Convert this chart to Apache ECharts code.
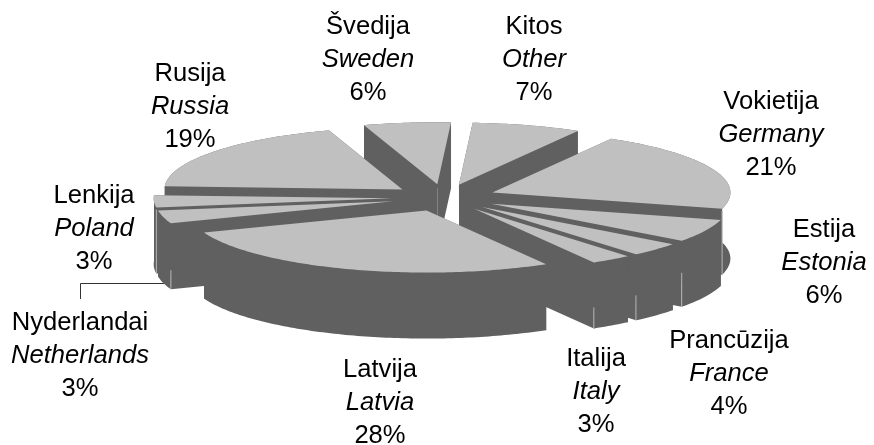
<!DOCTYPE html>
<html>
<head>
<meta charset="utf-8">
<style>
  html, body { margin: 0; padding: 0; background: #fff; }
  #main { width: 874px; height: 445px; }
</style>
<script src="https://cdn.jsdelivr.net/npm/echarts@6/dist/echarts.min.js"></script>
</head>
<body>
<div id="main"></div>
<script>
  // clockwise from the top of the pie
  const namesLt = ['Kitos', 'Vokietija', 'Estija', 'Prancūzija', 'Italija', 'Latvija', 'Nyderlandai', 'Lenkija', 'Rusija', 'Švedija'];
  const namesEn = ['Other', 'Germany', 'Estonia', 'France', 'Italy', 'Latvia', 'Netherlands', 'Poland', 'Russia', 'Sweden'];
  // the labels show them rounded
  const shares = [7.4, 20.9, 6, 3.6, 2.8, 27.6, 3.4, 3.2, 19.2, 5.9];

  // label centres, same order as the names
  const labelX = [534, 771, 824, 729, 596, 380, 80, 94, 190, 368];
  const labelY = [60, 135, 263, 374, 392, 403, 356, 229, 107, 60];
  // how far down the wall the light seam starts, null = no seam
  const seamSkip = [null, 2, 32, 41, 45, null, 47, 2, null, null];

  const pie = { cx: 444, cy: 197.7, rx: 238, ry: 62, depth: 66, explode: 0.22, start: 3.3 };
  const topColor = '#c0c0c0';
  const sideColor = '#606060';
  const seamColor = '#b4b4b4';

  const total = shares.reduce((a, b) => a + b, 0);
  const toAngle = v => echarts.number.linearMap(v, [0, total], [pie.start, pie.start + 360]);

  let sum = 0;
  const slices = shares.map((v, i) => {
    const s = { index: i, value: v, a0: toAngle(sum), a1: toAngle(sum + v) };
    sum += v;
    s.mid = (s.a0 + s.a1) / 2;
    return s;
  });

  // back slices first, so the front ones paint over them
  const drawOrder = slices.slice().sort((a, b) => -Math.cos(a.mid * Math.PI / 180) + Math.cos(b.mid * Math.PI / 180));

  function rim(ox, oy, deg) {
    const t = deg * Math.PI / 180;
    return [ox + pie.rx * Math.sin(t), oy - pie.ry * Math.cos(t)];
  }

  function renderSlice(params, api) {
    const s = drawOrder[params.dataIndex];
    const m = s.mid * Math.PI / 180;
    const ox = pie.cx + pie.explode * pie.rx * Math.sin(m);
    const oy = pie.cy - pie.explode * pie.ry * Math.cos(m);
    const arc = [];
    for (let a = s.a0; a < s.a1; a += 1) arc.push(rim(ox, oy, a));
    arc.push(rim(ox, oy, s.a1));
    const down = p => [p[0], p[1] + pie.depth];
    const first = arc[0], last = arc[arc.length - 1];
    const apex = [ox, oy];
    const sideStyle = { fill: sideColor };

    const children = [
      { type: 'polygon', shape: { points: [apex, first, down(first), down(apex)] }, style: sideStyle },
      { type: 'polygon', shape: { points: [apex, last, down(last), down(apex)] }, style: sideStyle },
      { type: 'polygon', shape: { points: arc.concat(arc.slice().reverse().map(down)) }, style: sideStyle }
    ];

    // thin light seam where a radial wall meets the outer wall
    const skip = seamSkip[s.index];
    if (skip !== null) {
      const p = s.mid < 180 + pie.start ? last : first;
      children.push({
        type: 'line',
        shape: { x1: p[0], y1: p[1] + skip, x2: p[0], y2: p[1] + pie.depth },
        style: { stroke: seamColor, lineWidth: 1 }
      });
    }

    children.push({ type: 'polygon', shape: { points: [apex].concat(arc) }, style: { fill: topColor } });
    return { type: 'group', children: children };
  }

  function renderLabel(params, api) {
    const i = params.dataIndex;
    return {
      type: 'text',
      x: labelX[i],
      y: labelY[i],
      style: {
        text: '{a|' + namesLt[i] + '}\n{b|' + namesEn[i] + '}\n{a|' + Math.round(shares[i]) + '%}',
        align: 'center',
        verticalAlign: 'middle',
        fill: '#000',
        rich: {
          a: { fontFamily: 'Liberation Sans', fontSize: 25.6, lineHeight: 33, fill: '#000', align: 'center' },
          b: { fontFamily: 'Liberation Sans', fontSize: 25.6, fontStyle: 'italic', lineHeight: 33, fill: '#000', align: 'center' }
        }
      }
    };
  }

  const chart = echarts.init(document.getElementById('main'), null, { renderer: 'canvas' });
  chart.setOption({
    backgroundColor: '#fff',
    animation: false,
    tooltip: { show: false },
    graphic: [{
      type: 'polyline',
      silent: true,
      z: 1,
      shape: { points: [[164, 283.5], [80.5, 283.5], [80.5, 299]] },
      style: { stroke: '#333', lineWidth: 1, fill: null }
    }],
    series: [
      {
        type: 'custom',
        coordinateSystem: 'none',
        silent: true,
        z: 2,
        data: drawOrder.map(s => s.value),
        renderItem: renderSlice
      },
      {
        type: 'custom',
        coordinateSystem: 'none',
        silent: true,
        z: 3,
        data: shares,
        renderItem: renderLabel
      }
    ]
  });
</script>
</body>
</html>
